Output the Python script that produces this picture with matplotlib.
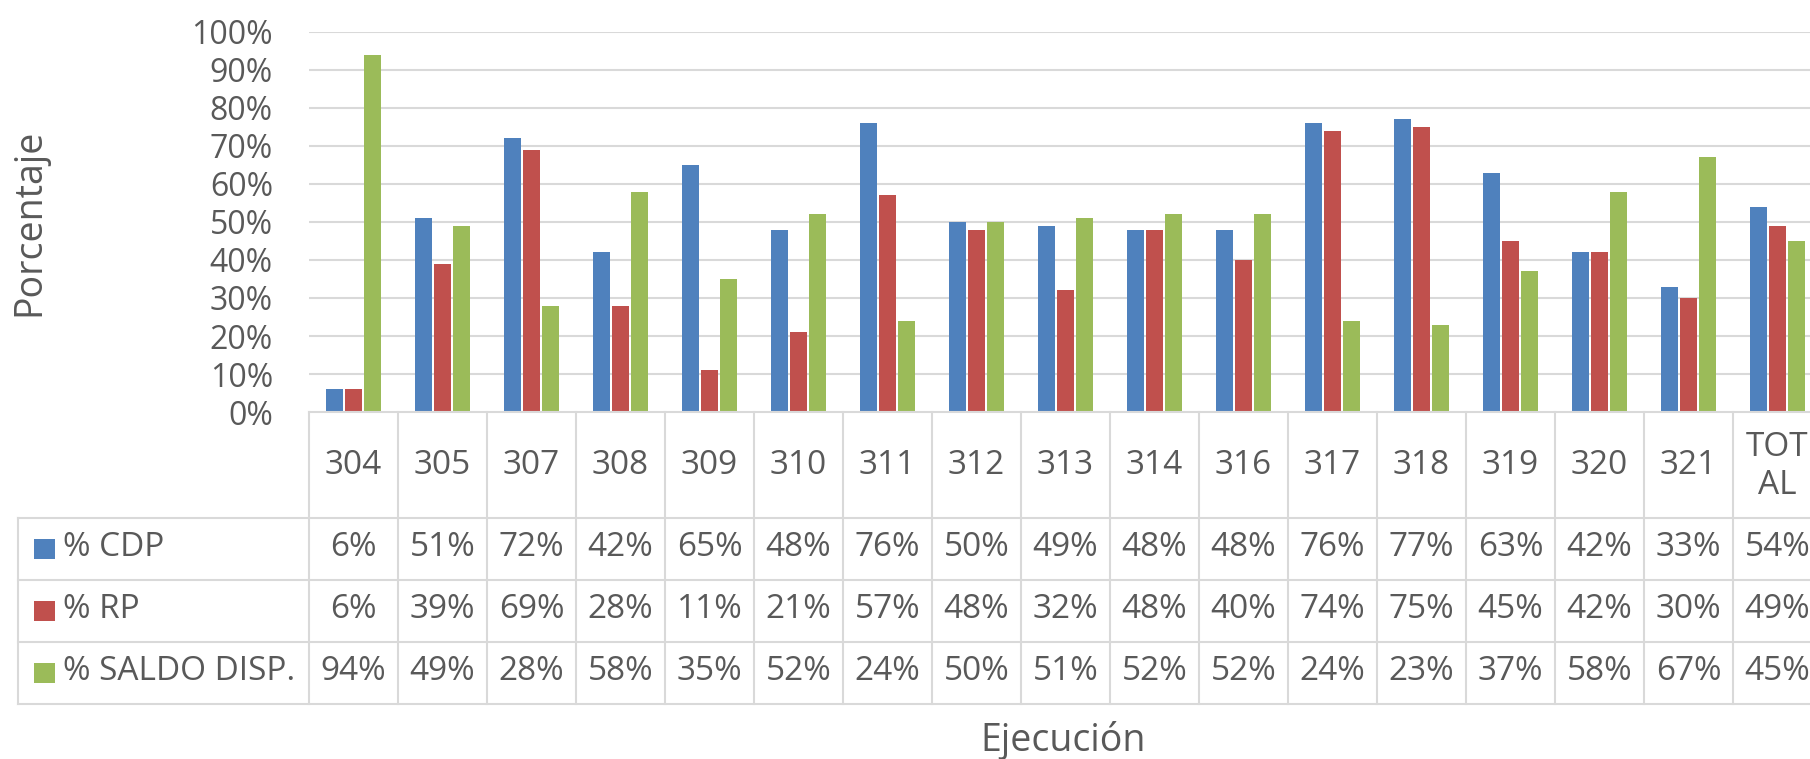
import matplotlib
matplotlib.use("Agg")
import matplotlib.pyplot as plt
from matplotlib.transforms import blended_transform_factory
from matplotlib.patches import Rectangle
from matplotlib.lines import Line2D
import numpy as np

categories = ["304", "305", "307", "308", "309", "310", "311", "312", "313",
              "314", "316", "317", "318", "319", "320", "321", "TOT\nAL"]
cdp = [6, 51, 72, 42, 65, 48, 76, 50, 49, 48, 48, 76, 77, 63, 42, 33, 54]
rp = [6, 39, 69, 28, 11, 21, 57, 48, 32, 48, 40, 74, 75, 45, 42, 30, 49]
saldo = [94, 49, 28, 58, 35, 52, 24, 50, 51, 52, 52, 24, 23, 37, 58, 67, 45]
series_names = ["% CDP", "% RP", "% SALDO DISP."]
colors = ["#4F81BD", "#C0504D", "#9BBB59"]
yticks = [0, 10, 20, 30, 40, 50, 60, 70, 80, 90, 100]

W, H = 1810, 759
TXT = "#595959"
GRID = "#D9D9D9"
FONT = "Open Sans"
plt.rcParams['font.family'] = [FONT, 'DejaVu Sans']
TFS = 24
TICKFS = 23
TITLEFS = 27

fig = plt.figure(figsize=(W / 100, H / 100), dpi=100)

def fx(x):
    return x / W

def fy(y):
    return 1 - y / H

ax_left, ax_right, ax_top, ax_bot = 309, 1822, 32, 412
ax = fig.add_axes([fx(ax_left), fy(ax_bot), fx(ax_right - ax_left), (ax_bot - ax_top) / H])

n = len(categories)
x = np.arange(n)
bw = 0.19
offs = [-0.213, 0.0, 0.213]
for vals, c, o in zip([cdp, rp, saldo], colors, offs):
    ax.bar(x + o, vals, width=bw, color=c, zorder=3, linewidth=0)

ax.set_xlim(-0.5, n - 0.5)
ax.set_ylim(0, 100)
ax.set_yticks(yticks)
ax.set_yticklabels([f"{v}%" for v in yticks], color=TXT, fontsize=TICKFS)
ax.tick_params(axis='y', length=0, pad=26)
ax.set_xticks([])
for s in ax.spines.values():
    s.set_visible(False)
for v in yticks[1:]:
    ax.axhline(v, color=GRID, lw=1.5, zorder=1)

# Data table
tr = blended_transform_factory(ax.transData, fig.transFigure)
row_lines = [518, 580, 642, 704]
lw = 1.5
fig.add_artist(Line2D([-0.5, n - 0.5], [fy(412), fy(412)], transform=tr, color=GRID, lw=lw, clip_on=False))
for ry in row_lines:
    fig.add_artist(Line2D([fx(18), 1.05], [fy(ry), fy(ry)], transform=fig.transFigure, color=GRID, lw=lw))
for k in range(n + 1):
    xx = k - 0.5
    fig.add_artist(Line2D([xx, xx], [fy(412), fy(704)], transform=tr, color=GRID, lw=lw, clip_on=False))
fig.add_artist(Line2D([fx(18), fx(18)], [fy(518), fy(704)], transform=fig.transFigure, color=GRID, lw=lw))

# header
for i, cat in enumerate(categories):
    fig.text(i, fy(466), cat, transform=tr, ha='center', va='center', color=TXT,
             fontsize=TFS, linespacing=1.2)

row_centers = [548, 610, 672]
for vals, name, c, ry in zip([cdp, rp, saldo], series_names, colors, row_centers):
    fig.add_artist(Rectangle((fx(34), fy(ry + 11)), fx(21), 20 / H, transform=fig.transFigure,
                             facecolor=c, edgecolor='none'))
    fig.text(fx(63), fy(ry), name, ha='left', va='center', color=TXT, fontsize=TFS)
    for i, v in enumerate(vals):
        fig.text(i, fy(ry), f"{v}%", transform=tr, ha='center', va='center', color=TXT, fontsize=TFS)

fig.text(fx(1063), fy(740), "Ejecución", ha='center', va='center', color=TXT, fontsize=TITLEFS)
fig.text(fx(29), fy(222), "Porcentaje", ha='center', va='center', color=TXT, fontsize=TITLEFS, rotation=90)

fig.savefig("out.png", dpi=100, facecolor="white")
